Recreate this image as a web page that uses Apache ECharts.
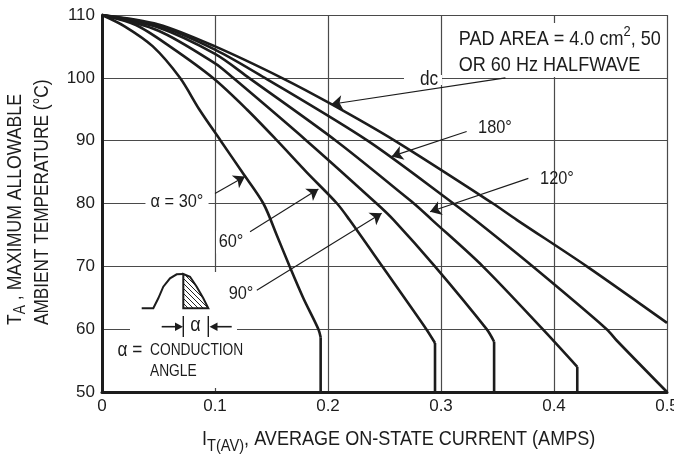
<!DOCTYPE html>
<html><head><meta charset="utf-8">
<script src="https://cdn.jsdelivr.net/npm/echarts@6/dist/echarts.min.js"></script>
<style>html,body{margin:0;padding:0;background:#fff;overflow:hidden}#c{width:674px;height:456px}</style>
</head><body><div id="c"></div>
<script>
// ---- data ----
const xTicks = [0, 0.1, 0.2, 0.3, 0.4, 0.5];
const yTicks = [50, 60, 70, 80, 90, 100, 110];
const angle30 = [[0,110],[0.02,108.2],[0.045,105],[0.069,100],[0.086,95],[0.105,90],[0.124,85],[0.1428,80],[0.1546,75],[0.166,70],[0.178,65],[0.1915,60],[0.1935,58.7]];
const angle60 = [[0,110],[0.03,108.4],[0.06,105],[0.098,100],[0.128,95],[0.155,90],[0.181,85],[0.208,80],[0.219,77.4],[0.248,70],[0.287,60],[0.2947,57.8]];
const angle90 = [[0,110],[0.05,107.5],[0.1,102.3],[0.116,100],[0.181,90],[0.243,80],[0.258,77.4],[0.2946,70],[0.3404,60],[0.347,58.0]];
const angle120 = [[0,110],[0.05,108],[0.1,103.8],[0.130,100],[0.207,90],[0.276,80],[0.292,77.4],[0.337,70],[0.390,60],[0.4206,54]];
const angle180 = [[0,110],[0.05,108.3],[0.1,104.5],[0.144,100],[0.235,90],[0.311,80],[0.330,77.4],[0.381,70],[0.4466,60],[0.4555,58.2],[0.5,50]];
const angleDC = [[0,110],[0.05,108.5],[0.1,105],[0.159,100],[0.203,95.8],[0.259,90],[0.346,80],[0.367,77.4],[0.429,70],[0.5,61]];
// vertical cut-off drops: [current, temperature where the drop starts]
const dropStarts = [[0.1935,58.7],[0.2947,57.8],[0.347,58.0],[0.4206,54]];
// annotation arrows: [tail, head] in data units
const arrowDC  = [[0.357,100],[0.203,95.8]];
const arrow180 = [[0.3227,91.47],[0.2564,87.5]];
const arrow120 = [[0.3773,84.0],[0.2903,78.7]];
const arrow30  = [[0.1,81.6],[0.1265,84.3]];
const arrow60  = [[0.131,75.5],[0.1915,82.3]];
const arrow90  = [[0.137,66.2],[0.2475,78.45]];

const FF = "'Liberation Sans', Arial, sans-serif";
const SX = 0.86;   // horizontal condensing of annotation text
const INK = '#1c1c1c';

const chart = echarts.init(document.getElementById('c'), null, {renderer:'canvas'});
const yMin = yTicks[0], yMax = yTicks[yTicks.length-1];

const curveStyle = {color: INK, width: 2.6};
const curves = [angle30, angle60, angle90, angle120, angle180, angleDC];
const series = curves.map(d => ({
  type:'line', data:d, smooth:0.3, showSymbol:false, silent:true, animation:false,
  lineStyle:curveStyle, z:5
}));
dropStarts.forEach(p => series.push({
  type:'line', data:[[p[0],p[1]],[p[0],yMin]], showSymbol:false, silent:true, animation:false,
  lineStyle:curveStyle, z:5
}));
const arrows = [arrowDC, arrow180, arrow120, arrow30, arrow60, arrow90];
series.push({
  type:'line', data:[], silent:true, animation:false, z:6,
  markLine:{
    silent:true, animation:false, symbol:['none','arrow'], symbolSize:11,
    label:{show:false}, lineStyle:{color:INK, width:1.1, type:'solid'},
    emphasis:{disabled:true},
    data: arrows.map(a => [{coord:a[0]},{coord:a[1]}])
  }
});

// hatch pattern
const pc = document.createElement('canvas'); pc.width=5; pc.height=5;
const pctx = pc.getContext('2d'); pctx.strokeStyle='#222'; pctx.lineWidth=1;
pctx.beginPath(); pctx.moveTo(0,0); pctx.lineTo(5,5); pctx.moveTo(-1,4); pctx.lineTo(1,6); pctx.moveTo(4,-1); pctx.lineTo(6,1); pctx.stroke();

const txt = (x,y,text,size,extra) => ({type:'text', x, y, z:10, silent:true, scaleX:SX,
  style:Object.assign({text, fontFamily:FF, fontSize:size, fill:INK, align:'center', verticalAlign:'middle'}, extra||{})});

const graphic = [
  // white gaps in the grid behind labels
  {type:'rect', shape:{x:130, y:272, width:107, height:116}, style:{fill:'#fff'}, z:1, silent:true},
  {type:'rect', shape:{x:404, y:75, width:38, height:10}, style:{fill:'#fff'}, z:1, silent:true},
  // hatched region
  {type:'polygon', z:3, silent:true, shape:{points:[[183.3,274],[190,276.7],[196.7,286.7],[203.3,298.3],[208.3,308.3],[183.3,308.3]]},
    style:{fill:{image:pc, repeat:'repeat'}, stroke:INK, lineWidth:2}},
  {type:'polyline', z:3, silent:true, shape:{points:[[141.7,308.3],[153.3,308.3],[158.3,298.3],[163.3,286.7],[170,278.3],[176.7,274.3],[183.3,274]]},
    style:{stroke:INK, lineWidth:2, fill:null}},
  // alpha arrows
  {type:'line', z:3, silent:true, shape:{x1:161.7,y1:326.7,x2:177,y2:326.7}, style:{stroke:INK, lineWidth:1.6}},
  {type:'polygon', z:3, silent:true, shape:{points:[[175,322.5],[183,326.7],[175,331]]}, style:{fill:INK}},
  {type:'line', z:3, silent:true, shape:{x1:183.3,y1:316,x2:183.3,y2:337}, style:{stroke:INK, lineWidth:1.4}},
  {type:'line', z:3, silent:true, shape:{x1:208.3,y1:316,x2:208.3,y2:337}, style:{stroke:INK, lineWidth:1.4}},
  {type:'polygon', z:3, silent:true, shape:{points:[[217.5,322.5],[209.5,326.7],[217.5,331]]}, style:{fill:INK}},
  {type:'line', z:3, silent:true, shape:{x1:216,y1:326.7,x2:231.7,y2:326.7}, style:{stroke:INK, lineWidth:1.6}},
  txt(195.5,325,'α',21),
  txt(130,350,'α =',20),
  txt(150,351,'CONDUCTION',16,{align:'left'}),
  txt(150,372,'ANGLE',16,{align:'left'}),
  // curve labels
  txt(429,79,'dc',20),
  txt(495,128,'180°',19,{backgroundColor:'#fff', padding:[2,3]}),
  txt(557,179,'120°',19),
  txt(177,202,'α = 30°',19,{backgroundColor:'#fff', padding:[3,6]}),
  txt(231,242,'60°',19,{backgroundColor:'#fff', padding:[2,3]}),
  txt(241,294,'90°',19,{backgroundColor:'#fff', padding:[2,3]}),
  // pad area note
  {type:'text', x:457, y:50, z:10, silent:true, scaleX:SX, style:{
    text:'{t|PAD AREA = 4.0 cm}{s|2}{t|, 50}\n{t|OR 60 Hz HALFWAVE}', fontFamily:FF, fill:INK, align:'left', verticalAlign:'middle',
    backgroundColor:'#fff', padding:[1,4,1,2],
    rich:{t:{fontFamily:FF, fontSize:21, lineHeight:26, fill:INK, verticalAlign:'bottom'},
          s:{fontFamily:FF, fontSize:15, lineHeight:26, fill:INK, verticalAlign:'top'}}}},
  // x axis title
  {type:'text', x:202, y:442, z:10, silent:true, scaleX:SX, style:{
    text:'{t|I}{s|T(AV)}{t|, AVERAGE ON-STATE CURRENT (AMPS)}', fontFamily:FF, fill:INK, align:'left', verticalAlign:'middle',
    rich:{t:{fontFamily:FF, fontSize:21, lineHeight:26, fill:INK, verticalAlign:'top'},
          s:{fontFamily:FF, fontSize:17, lineHeight:26, fill:INK, verticalAlign:'bottom'}}}},
  // y axis title
  {type:'text', x:17, y:325, rotation:Math.PI/2, z:10, silent:true, scaleX:SX, style:{
    text:'{t|T}{s|A}{t| , MAXIMUM ALLOWABLE}', fontFamily:FF, fill:INK, align:'left', verticalAlign:'middle',
    rich:{t:{fontFamily:FF, fontSize:20.5, lineHeight:24, fill:INK, verticalAlign:'top'},
          s:{fontFamily:FF, fontSize:16, lineHeight:24, fill:INK, verticalAlign:'bottom'}}}},
  {type:'text', x:42, y:325, rotation:Math.PI/2, z:10, silent:true, scaleX:SX, style:{
    text:'AMBIENT TEMPERATURE (°C)', fontFamily:FF, fontSize:20, fill:INK, align:'left', verticalAlign:'middle'}}
];

chart.setOption({
  animation:false,
  backgroundColor:'#fff',
  grid:{left:102, right:7, top:15, bottom:64, containLabel:false, outerBoundsMode:'none'},
  xAxis:{type:'value', min:xTicks[0], max:xTicks[xTicks.length-1], interval:0.1,
    axisLine:{show:true, onZero:false, lineStyle:{color:INK, width:3}},
    axisTick:{show:false},
    splitLine:{show:true, showMinLine:true, showMaxLine:true, lineStyle:{color:'#4a4a4a', width:1.2}},
    axisLabel:{show:true, margin:6, fontFamily:FF, fontSize:17, color:INK, hideOverlap:false,
      formatter:v => { const t = xTicks.find(k => Math.abs(k-v)<1e-9); return t===0 ? '0' : (t!==undefined ? t.toFixed(1) : ''); }}
  },
  yAxis:{type:'value', min:yMin, max:yMax, interval:10,
    axisLine:{show:true, onZero:false, lineStyle:{color:INK, width:3}},
    axisTick:{show:false},
    splitLine:{show:true, showMinLine:true, showMaxLine:true, lineStyle:{color:'#4a4a4a', width:1.2}},
    axisLabel:{show:true, margin:7, fontFamily:FF, fontSize:17, color:INK,
      formatter:v => String(yTicks.find(k => Math.abs(k-v)<1e-9) ?? '')}
  },
  graphic:graphic,
  series:series
});
</script></body></html>
